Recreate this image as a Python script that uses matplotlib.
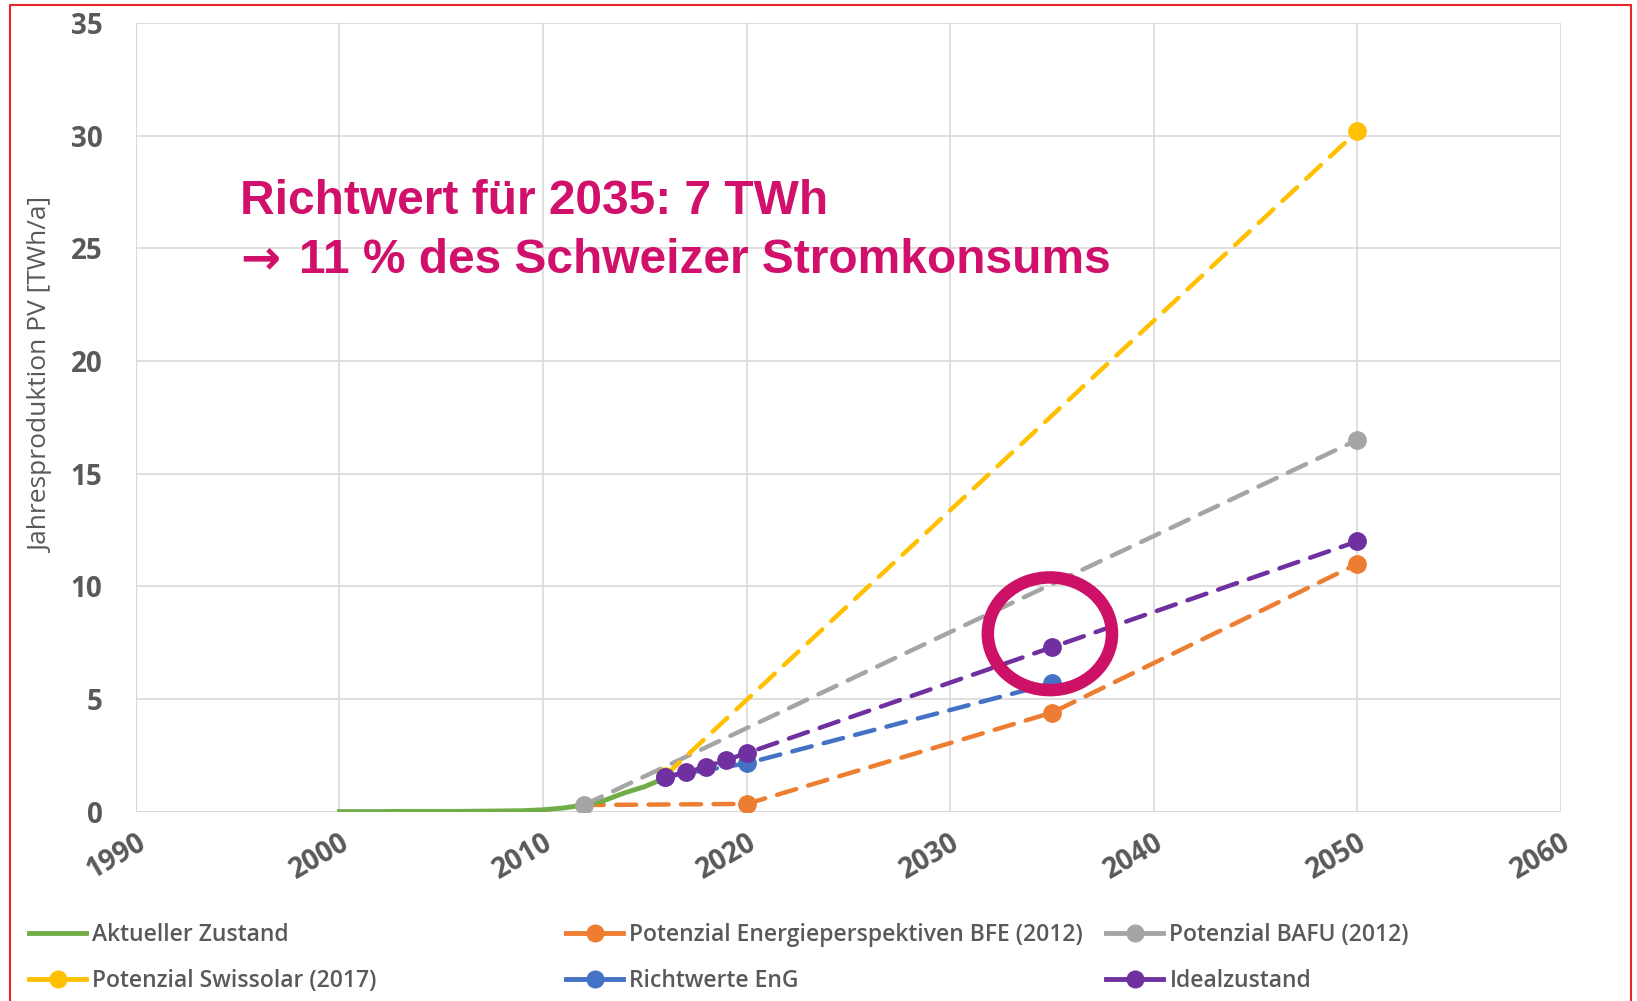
import matplotlib
matplotlib.use("Agg")
import matplotlib.pyplot as plt
from matplotlib.lines import Line2D
from matplotlib.patches import Ellipse, Rectangle

# Daten
jahre_ist = [2000, 2001, 2002, 2003, 2004, 2005, 2006, 2007, 2008,
             2009, 2010, 2011, 2012, 2013, 2014, 2015, 2016]
werte_ist = [0.01, 0.01, 0.01, 0.02, 0.02, 0.02, 0.02, 0.03, 0.04,
             0.05, 0.09, 0.17, 0.30, 0.50, 0.84, 1.12, 1.50]

jahre_bfe = [2012, 2020, 2035, 2050]
werte_bfe = [0.3, 0.35, 4.4, 11.0]

jahre_bafu = [2012, 2050]
werte_bafu = [0.3, 16.5]

jahre_swissolar = [2016, 2050]
werte_swissolar = [1.6, 30.2]

jahre_eng = [2016, 2020, 2035]
werte_eng = [1.55, 2.15, 5.7]

jahre_ideal = [2016, 2017, 2018, 2019, 2020, 2035, 2050]
werte_ideal = [1.55, 1.75, 2.0, 2.3, 2.6, 7.3, 12.0]

GRUEN = "#70AD47"
ORANGE = "#ED7D31"
GRAU = "#A5A5A5"
GELB = "#FFC000"
BLAU = "#4472C4"
LILA = "#7030A0"
TEXT = "#595959"
MAGENTA = "#D0106A"

fig = plt.figure(figsize=(16.37, 10.01), dpi=100)
ax = fig.add_axes([0.083, 0.189, 0.8705, 0.788])

strich = dict(linestyle=(0, (4.5, 2.8)), linewidth=3.2, marker="o",
              markersize=12.5, dash_capstyle="round")

ax.plot(jahre_bfe, werte_bfe, color=ORANGE, markevery=[1, 2, 3], zorder=3, **strich)
ax.plot(jahre_ist, werte_ist, color=GRUEN, linewidth=3.5, zorder=3.5)
ax.plot(jahre_bafu, werte_bafu, color=GRAU, zorder=4, **strich)
ax.plot(jahre_swissolar, werte_swissolar, color=GELB, zorder=4.2, **strich)
ax.plot(jahre_eng, werte_eng, color=BLAU, zorder=4.4, **strich)
ax.plot(jahre_ideal, werte_ideal, color=LILA, zorder=5, **strich)

# Markierung 2035
ax.add_patch(Ellipse((2034.9, 7.9), 6.1, 5.0, fill=False,
                     edgecolor="#CC1166", linewidth=9, zorder=6))

ax.set_xlim(1990, 2060)
ax.set_ylim(0, 35)
ax.set_xticks(range(1990, 2061, 10))
ax.set_yticks(range(0, 36, 5))
ax.grid(True, color="#D9D9D9", linewidth=1.2)
ax.set_axisbelow(True)
for s in ax.spines.values():
    s.set_visible(False)
ax.axhline(0, color="#D9D9D9", linewidth=1.5, zorder=1)
ax.axvline(1990, color="#D9D9D9", linewidth=1.5, zorder=1)

ax.tick_params(length=0, pad=24, labelsize=20, labelcolor=TEXT)
ax.tick_params(axis="x", pad=12)
for lab in ax.get_yticklabels():
    lab.set_fontfamily("Open Sans")
    lab.set_fontweight("bold")
for lab in ax.get_xticklabels():
    lab.set_fontfamily("Open Sans")
    lab.set_fontweight("bold")
    lab.set_rotation(30)
    lab.set_ha("right")
    lab.set_va("top")
    lab.set_rotation_mode("anchor")

fig.text(42 / 1637, 1 - 375 / 1001, "Jahresproduktion PV [TWh/a]",
         rotation=90, ha="center", va="center", fontsize=19,
         color=TEXT, family="Open Sans")

fig.text(240 / 1637, 1 - 214 / 1001, "Richtwert für 2035: 7 TWh",
         fontsize=34.5, fontweight="bold", color=MAGENTA,
         family="Liberation Sans", va="baseline")
fig.text(240 / 1637, 1 - 273 / 1001, "\u2192",
         fontsize=34.5, fontweight="bold", color=MAGENTA,
         family="DejaVu Sans", va="baseline")
fig.text(299 / 1637, 1 - 273 / 1001, "11 % des Schweizer Stromkonsums",
         fontsize=34.5, fontweight="bold", color=MAGENTA,
         family="Liberation Sans", va="baseline")


# Legende
def griff(farbe, marker=True):
    return Line2D([], [], color=farbe, linewidth=3.5,
                  marker="o" if marker else None, markersize=12)


spalten = [
    ([griff(GRUEN, False), griff(GELB)],
     ["Aktueller Zustand", "Potenzial Swissolar (2017)"], 18),
    ([griff(ORANGE), griff(BLAU)],
     ["Potenzial Energieperspektiven BFE (2012)", "Richtwerte EnG"], 555),
    ([griff(GRAU), griff(LILA)],
     ["Potenzial BAFU (2012)", "Idealzustand"], 1095),
]
for handles, labels, xpos in spalten:
    leg = fig.legend(handles, labels, loc="upper left",
                     bbox_to_anchor=(xpos / 1637, 1 - 912 / 1001),
                     frameon=False, handlelength=2.45, handletextpad=0.3,
                     labelspacing=0.95, borderpad=0,
                     prop={"family": "Open Sans", "weight": "semibold", "size": 16.5})
    for t in leg.get_texts():
        t.set_color(TEXT)

fig.patches.append(Rectangle((10 / 1637, -0.01), 1621 / 1637, 1.0 - 5 / 1001 + 0.01,
                             transform=fig.transFigure, fill=False,
                             edgecolor="#E8262B", linewidth=1.5))

fig.savefig("out.png", dpi=100)
